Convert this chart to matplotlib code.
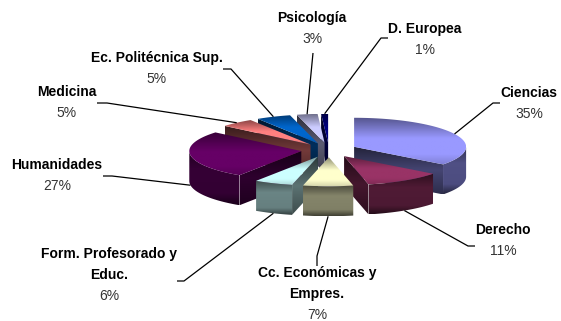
import numpy as np
import matplotlib
matplotlib.use('Agg')
import matplotlib.pyplot as plt
from matplotlib.colors import to_rgb, LinearSegmentedColormap
from matplotlib.patches import Polygon

categories = ['Ciencias', 'Derecho', 'Cc. Económicas y\nEmpres.', 'Form. Profesorado y\nEduc.',
              'Humanidades', 'Medicina', 'Ec. Politécnica Sup.', 'Psicología', 'D. Europea']
values = [35.4, 11.1, 7.2, 5.6, 26.8, 4.9, 5.0, 3.0, 1.0]
colors = ['#9999FF', '#993366', '#FFFFCC', '#CCFFFF', '#660066', '#FF8080', '#0066CC', '#CCCCFF', '#000080']

# label block centre, and the leader's points from the label towards the pie
label_pos = [(529, 103), (503, 240), (317, 304), (109, 285), (57, 175), (67, 102), (157, 68), (312, 28), (425, 39)]
leaders = [[(500, 103), (493, 103)], [(475, 246), (468, 246)], [(317, 266), (317, 256)], [(177, 281), (184, 281)],
           [(103, 176), (112, 176)], [(97, 103), (107, 103)], [(223, 69), (231, 69)], [(313, 53)],
           [(388, 38), (381, 38)]]

CX, CY = 329, 150
RX, RY = 112, 29
DEPTH = 30
EXPLODE = 28

FONT = ['Liberation Sans']


def shade(col, f):
    return tuple(np.clip(np.array(to_rgb(col)) * f, 0, 1))


def fill_grad(ax, pts, stops, zorder):
    # vertical gradient clipped to a polygon
    pts = np.array(pts)
    cmap = LinearSegmentedColormap.from_list('g', stops)
    x0, x1 = pts[:, 0].min(), pts[:, 0].max()
    y0, y1 = pts[:, 1].min(), pts[:, 1].max()
    im = ax.imshow(np.linspace(0, 1, 64)[:, None], cmap=cmap, aspect='auto', extent=[x0, x1, y1, y0],
                   zorder=zorder, interpolation='bilinear')
    p = Polygon(pts, closed=True, fc='none', ec='none', transform=ax.transData)
    ax.add_patch(p)
    im.set_clip_path(p)


fig = plt.figure(figsize=(5.61, 3.21), dpi=100)
ax = fig.add_axes([0, 0, 1, 1])

fr = np.cumsum([0] + values) / sum(values)
wedges = []
for i, col in enumerate(colors):
    a0, a1 = 2 * np.pi * fr[i], 2 * np.pi * fr[i + 1]
    mid = (a0 + a1) / 2
    px, py = CX + EXPLODE * np.sin(mid), CY - EXPLODE * RY / RX * np.cos(mid)
    wedges.append((i, col, a0, a1, mid, px, py))

# back to front
order = sorted(wedges, key=lambda w: -np.cos(w[4]))
for z, (i, col, a0, a1, mid, px, py) in enumerate(order):
    t = np.linspace(a0, a1, 80)
    rim = np.c_[px + RX * np.sin(t), py - RY * np.cos(t)]
    base = z * 10 + 1
    mx, my = rim.mean(axis=0)

    # straight cut faces, only those turned to the viewer
    for a in (a0, a1):
        ex, ey = px + RX * np.sin(a), py - RY * np.cos(a)
        s = (ex - px) * (my - py) - (ey - py) * (mx - px)
        if s * (ex - px) < 0:
            quad = [(px, py), (ex, ey), (ex, ey + DEPTH), (px, py + DEPTH)]
            fill_grad(ax, quad, [shade(col, .22), shade(col, .45), shade(col, .3)], base)

    # outer wall, front half only
    ft = t[np.cos(t) < 0]
    if len(ft) > 1:
        top = np.c_[px + RX * np.sin(ft), py - RY * np.cos(ft)]
        bot = top + [0, DEPTH]
        stops = [(0, shade(col, .3)), (.35, shade(col, .52)), (.8, shade(col, .5)), (1, shade(col, .25))]
        fill_grad(ax, np.r_[top, bot[::-1]], stops, base + 1)

    poly = np.r_[[(px, py)], rim]
    fill_grad(ax, poly, [(0, shade(col, .55)), (.45, col), (.8, col), (1, shade(col, .85))], base + 2)

    # leader from the rim at the wedge's mid angle
    lx_end, ly_end = px + RX * np.sin(mid), py - RY * np.cos(mid)
    if np.cos(mid) < 0:
        ly_end += DEPTH
    pts = np.array(leaders[i] + [(lx_end, ly_end)])
    ax.plot(pts[:, 0], pts[:, 1], color='black', lw=0.9, zorder=300, solid_capstyle='butt')

    lx, ly = label_pos[i]
    ax.text(lx, ly - 3, categories[i], ha='center', va='bottom', fontsize=10, fontweight='bold', family=FONT,
            color='black', linespacing=1.65, zorder=310)
    ax.text(lx, ly + 4, f'{round(values[i])}%', ha='center', va='top', fontsize=10, family=FONT,
            color='#333333', zorder=310)

ax.set_xlim(0, 561)
ax.set_ylim(321, 0)
ax.axis('off')
fig.savefig('out.png', dpi=100)
